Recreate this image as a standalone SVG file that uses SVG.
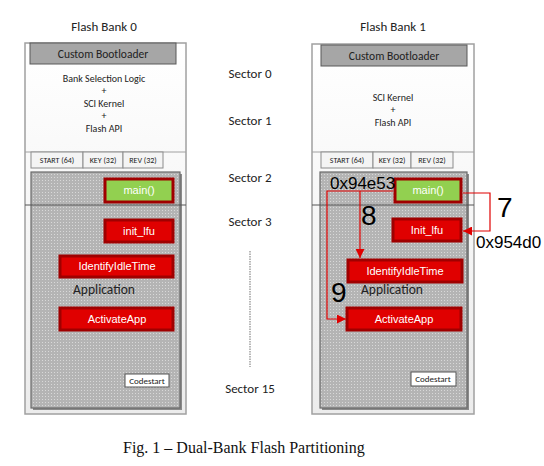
<svg xmlns="http://www.w3.org/2000/svg" width="544" height="466" viewBox="0 0 544 466">
<defs>
<pattern id="dots" width="3" height="3" patternUnits="userSpaceOnUse">
<rect width="3" height="3" fill="#b4b4b4"/>
<rect x="0" y="0" width="1" height="1" fill="#d8d8d8"/>
</pattern>
<linearGradient id="bankg" x1="0" y1="0" x2="0" y2="1">
<stop offset="0" stop-color="#ffffff"/>
<stop offset="1" stop-color="#ececec"/>
</linearGradient>
<marker id="arr" viewBox="0 0 10 10" refX="10" refY="5" markerWidth="9" markerHeight="9" markerUnits="userSpaceOnUse" orient="auto">
<path d="M0,0 L10,5 L0,10 z" fill="#e00000"/>
</marker>
</defs>
<style>
text{font-family:Calibri,"Carlito","Liberation Sans",sans-serif;fill:#222}
.ttl{font-size:13px;text-anchor:middle}
.sm{font-size:10px;text-anchor:middle}
.tab{font-size:8px;text-anchor:middle}
.bank{fill:url(#bankg);stroke:#a0a0a0;stroke-width:1.5}
.boot{fill:#a6a6a6;stroke:#595959;stroke-width:1}
.tabr{fill:#f4f4f4;stroke:#8c8c8c;stroke-width:1}
.app{fill:url(#dots);stroke:#6a6a6a;stroke-width:1.2}
.red{fill:#e00000;stroke:#a00000;stroke-width:3}
.grn{fill:#92d050;stroke:#a00000;stroke-width:3}
.wt{font-family:"Liberation Sans",Arial,sans-serif;font-size:11px;fill:#fff;text-anchor:middle}
.cs{fill:#fff;stroke:#555;stroke-width:1}
.big{font-family:"Liberation Sans",Arial,sans-serif;fill:#000}
.con{fill:none;stroke:#e00000;stroke-width:1.2}
.sec{font-size:13px;text-anchor:middle}
</style>

<g id="bank0">
<text class="ttl" x="104" y="31">Flash Bank 0</text>
<rect class="bank" x="25" y="43" width="161" height="371"/>
<rect class="boot" x="30" y="43" width="146" height="21"/>
<text class="ttl" x="103" y="58" style="font-size:11.5px">Custom Bootloader</text>
<text class="sm" x="104" y="82">Bank Selection Logic</text>
<text class="sm" x="104" y="94">+</text>
<text class="sm" x="104" y="107">SCI Kernel</text>
<text class="sm" x="104" y="119">+</text>
<text class="sm" x="104" y="132">Flash API</text>
<line x1="25" y1="152" x2="186" y2="152" stroke="#a0a0a0" stroke-width="1"/>
<rect class="tabr" x="31" y="152" width="52" height="16"/>
<text class="tab" x="57" y="163">START (64)</text>
<rect class="tabr" x="83" y="152" width="40" height="16"/>
<text class="tab" x="103" y="163">KEY (32)</text>
<rect class="tabr" x="123" y="152" width="40" height="16"/>
<text class="tab" x="143" y="163">REV (32)</text>
<rect x="33" y="174" width="149" height="236" fill="#8a8a8a"/>
<rect class="app" x="31" y="172" width="149" height="236"/>
<line x1="25" y1="205" x2="186" y2="205" stroke="#555" stroke-width="1"/>
<text class="ttl" x="104" y="294" style="font-size:13.5px">Application</text>
<rect class="cs" x="125" y="374" width="44" height="13"/>
<text class="tab" x="147" y="384" style="font-size:9px">Codestart</text>
</g>
<g id="main0"><rect class="grn" x="105" y="179" width="68" height="23"/><text class="wt" x="139" y="194">main()</text></g>
<g id="initlfu0"><rect class="red" x="105" y="220" width="68" height="22"/><text class="wt" x="139" y="235">init_lfu</text></g>
<g id="idle0"><rect class="red" x="60" y="256" width="113" height="21"/><text class="wt" x="117" y="270">IdentifyIdleTime</text></g>
<g id="act0"><rect class="red" x="60" y="308" width="113" height="22"/><text class="wt" x="117" y="323">ActivateApp</text></g>

<g id="sectors">
<text class="sec" x="250" y="78">Sector 0</text>
<text class="sec" x="250" y="125">Sector 1</text>
<text class="sec" x="250" y="182">Sector 2</text>
<text class="sec" x="250" y="226">Sector 3</text>
<line x1="250" y1="251" x2="250" y2="367" stroke="#b8b8b8" stroke-width="2" stroke-dasharray="1.5 1"/>
<text class="sec" x="250" y="393">Sector 15</text>
</g>

<g id="bank1">
<text class="ttl" x="393" y="31">Flash Bank 1</text>
<rect class="bank" x="312" y="44" width="162" height="370"/>
<rect class="boot" x="321" y="45" width="146" height="21"/>
<text class="ttl" x="394" y="60" style="font-size:11.5px">Custom Bootloader</text>
<text class="sm" x="393" y="101">SCI Kernel</text>
<text class="sm" x="393" y="113">+</text>
<text class="sm" x="393" y="126">Flash API</text>
<line x1="312" y1="152" x2="474" y2="152" stroke="#a0a0a0" stroke-width="1"/>
<rect class="tabr" x="321" y="152" width="52" height="16"/>
<text class="tab" x="347" y="163">START (64)</text>
<rect class="tabr" x="373" y="152" width="38" height="16"/>
<text class="tab" x="392" y="163">KEY (32)</text>
<rect class="tabr" x="411" y="152" width="42" height="16"/>
<text class="tab" x="432" y="163">REV (32)</text>
<rect x="322" y="174" width="147" height="236" fill="#8a8a8a"/>
<rect class="app" x="320" y="172" width="147" height="236"/>
<line x1="312" y1="205" x2="474" y2="205" stroke="#555" stroke-width="1"/>
<text class="ttl" x="392" y="294" style="font-size:13.5px">Application</text>
<rect class="cs" x="411" y="372" width="45" height="14"/>
<text class="tab" x="433" y="382" style="font-size:9px">Codestart</text>
</g>
<g id="main1"><rect class="grn" x="395" y="179" width="66" height="23"/><text class="wt" x="428" y="194">main()</text></g>
<g id="initlfu1"><rect class="red" x="393" y="219" width="68" height="22"/><text class="wt" x="427" y="234">Init_lfu</text></g>
<g id="idle1"><rect class="red" x="348" y="260" width="114" height="22"/><text class="wt" x="405" y="275">IdentifyIdleTime</text></g>
<g id="act1"><rect class="red" x="347" y="308" width="114" height="22"/><text class="wt" x="404" y="323">ActivateApp</text></g>

<g id="connectors">
<path class="con" d="M393,191 H327 V319 H346" marker-end="url(#arr)"/>
<path class="con" d="M360,191 V258" marker-end="url(#arr)"/>
<path class="con" d="M463,193 H490 V231 H463" marker-end="url(#arr)"/>
</g>
<g id="labels">
<text class="big" x="330" y="189" font-size="17">0x94e53</text>
<text class="big" x="361" y="225" font-size="28">8</text>
<text class="big" x="331" y="302" font-size="28">9</text>
<text class="big" x="497" y="217" font-size="28">7</text>
<text class="big" x="476" y="248" font-size="17">0x954d0</text>
</g>
<text x="123" y="453" style="font-family:'Liberation Serif','Times New Roman',serif;font-size:16px;fill:#111">Fig. 1 – Dual-Bank Flash Partitioning</text>
</svg>
